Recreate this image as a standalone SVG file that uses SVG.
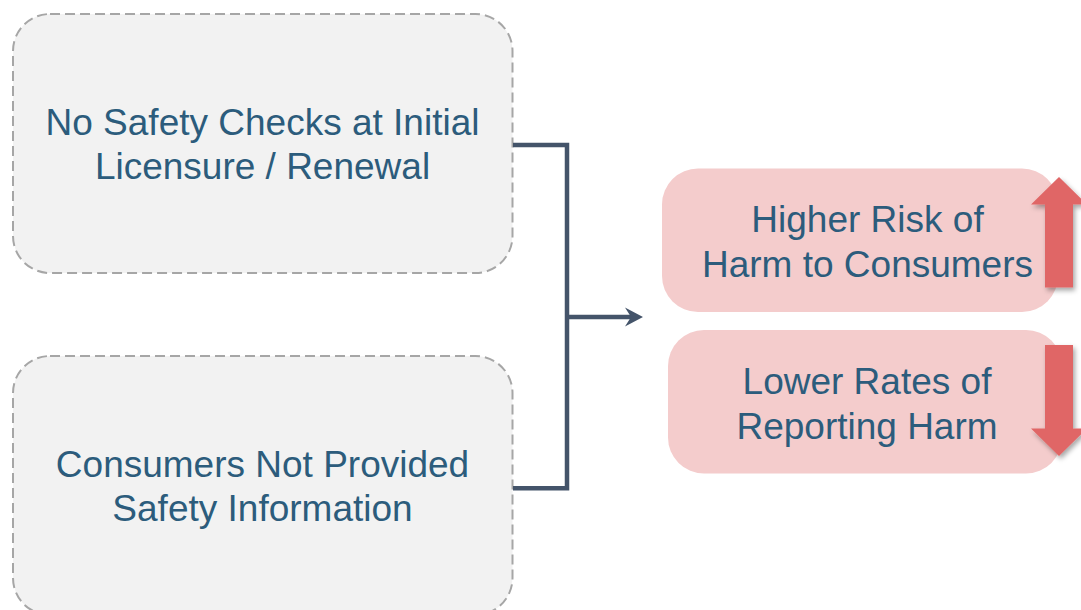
<svg xmlns="http://www.w3.org/2000/svg" width="1081" height="610" viewBox="0 0 1081 610">
<style>
.cause{fill:#F2F2F2;stroke:#A6A6A6;stroke-width:2;stroke-dasharray:10 5}
.effect{fill:#F4CCCC}
.lbl{font-family:"Liberation Sans",Arial,sans-serif;font-size:37px;fill:#2C5C7C;text-anchor:middle}
.conn{fill:none;stroke:#44546A;stroke-width:4.5}
.trend{fill:#E06666}
</style>
<defs>
<filter id="sh" x="-50%" y="-20%" width="200%" height="140%">
<feDropShadow dx="2" dy="3" stdDeviation="2.5" flood-color="#000" flood-opacity="0.35"/>
</filter>
</defs>
<rect width="1081" height="610" fill="#FFFFFF"/>
<g id="cause1">
<rect class="cause" x="13" y="14" width="499.5" height="259" rx="37" ry="37"/>
<text class="lbl" x="262.5" y="134.5">No Safety Checks at Initial</text>
<text class="lbl" x="262.5" y="178.5">Licensure / Renewal</text>
</g>
<g id="cause2">
<rect class="cause" x="13" y="356" width="499.5" height="259" rx="37" ry="37"/>
<text class="lbl" x="262.5" y="476.5">Consumers Not Provided</text>
<text class="lbl" x="262.5" y="521">Safety Information</text>
</g>
<g id="connectors">
<path class="conn" d="M513 145 H567 V488.3 H513"/>
<path class="conn" d="M567 317 H632"/>
<path fill="#44546A" d="M643 317 L625 307.5 L631 317 L625 326.5 Z"/>
</g>
<g id="effect1">
<rect class="effect" x="662" y="168.5" width="396" height="143.5" rx="36" ry="36"/>
<text class="lbl" x="867.5" y="231.5">Higher Risk of</text>
<text class="lbl" x="867.5" y="276.5">Harm to Consumers</text>
<polygon class="trend" filter="url(#sh)" points="1059,177 1087,204.5 1073,204.5 1073,287.5 1045,287.5 1045,204.5 1031,204.5"/>
</g>
<g id="effect2">
<rect class="effect" x="668" y="330" width="394" height="143.5" rx="36" ry="36"/>
<text class="lbl" x="867" y="393.5">Lower Rates of</text>
<text class="lbl" x="867" y="438.5">Reporting Harm</text>
<polygon class="trend" filter="url(#sh)" points="1045,345 1073,345 1073,428.5 1087,428.5 1059,456 1031,428.5 1045,428.5"/>
</g>
</svg>
